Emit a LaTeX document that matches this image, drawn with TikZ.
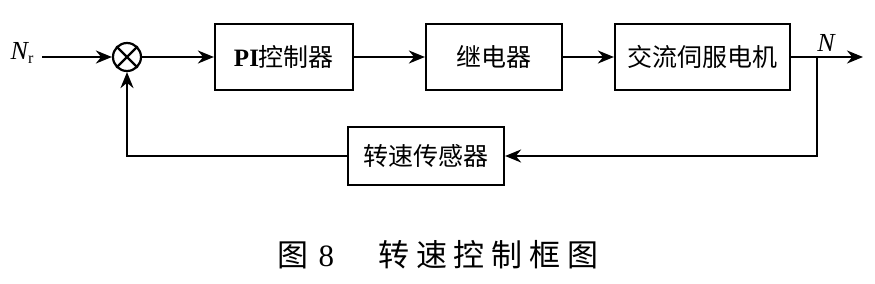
\documentclass[tikz,border=0pt]{standalone}
\usepackage{fontspec}
\setmainfont{Liberation Serif}
\newfontfamily\cjk{Noto Sans CJK SC}
\newfontfamily\capfont[LetterSpace=22]{Noto Sans CJK SC}
\usetikzlibrary{arrows.meta,positioning,calc}
\tikzset{
  blockbox/.style={
    draw, line width=1.1pt, minimum height=33pt, inner sep=0pt,
    font=\cjk\fontsize{12.5}{14}\selectfont
  },
  sumnode/.style={draw, circle, line width=1.1pt, minimum size=14pt, inner sep=0pt},
  sig/.style={line width=1.1pt, -{Stealth[length=8pt,width=6.5pt]}},
  wire/.style={line width=1.1pt},
  varlabel/.style={font=\fontsize{13}{15}\selectfont\itshape, inner sep=1pt}
}
\begin{document}
\begin{tikzpicture}[x=0.5pt,y=-0.5pt]
  \useasboundingbox (0,0) rectangle (875,284);
  % forward path
  \node[varlabel] (nref) at (22,53) {N\raisebox{-0.35ex}{\upshape\fontsize{8}{9}\selectfont r}};
  \coordinate (in) at (42,57);
  \node[sumnode] (sum) at (127,57) {};
  \draw[wire] (sum.north west) -- (sum.south east);
  \draw[wire] (sum.north east) -- (sum.south west);
  \node[blockbox, minimum width=69pt] (pi) at (284,57) {{\rmfamily\bfseries PI}控制器};
  \node[blockbox, minimum width=68pt] (relay) at (494,57) {继电器};
  \node[blockbox, minimum width=87.5pt] (motor) at (702.5,57) {交流伺服电机};
  \coordinate (branch) at (817,57);
  \coordinate (out) at (863,57);
  \node[varlabel] (nout) at (826,43) {N};
  \draw[sig] (in) -- (sum.west);
  \draw[sig] (sum.east) -- (pi.west);
  \draw[sig] (pi.east) -- (relay.west);
  \draw[sig] (relay.east) -- (motor.west);
  \draw[sig] (motor.east) -- (out);
  % feedback path
  \node[blockbox, minimum width=78pt, minimum height=29pt] (sensor) at (426,156) {转速传感器};
  \draw[sig] (branch) |- (sensor.east);
  \draw[sig] (sensor.west) -| (sum.south);
  % caption
  \node (cap) at (438,255) {\capfont\fontsize{15.5}{18}\selectfont 图\hspace{5pt}{\rmfamily 8}\hspace{22pt}转速控制框图};
\end{tikzpicture}
\end{document}
